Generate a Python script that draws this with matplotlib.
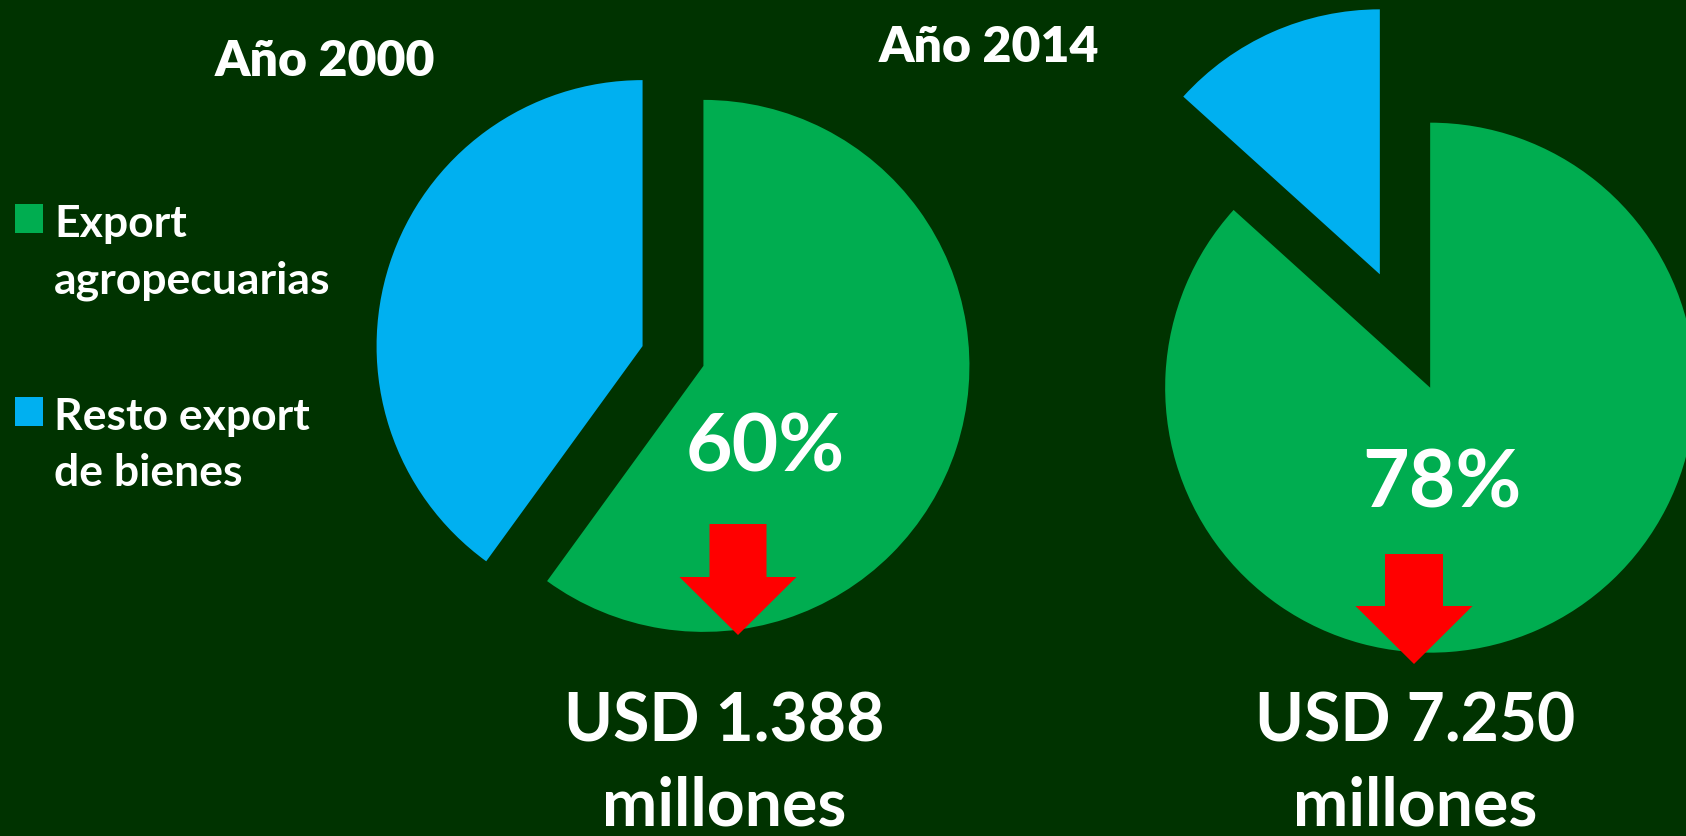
import matplotlib.pyplot as plt
from matplotlib.patches import Rectangle, FancyArrow

# datos (porciones tal como se ven dibujadas)
labels = ["Export\nagropecuarias", "Resto export\nde bienes"]
colors = ["#00AD50", "#00B0F0"]
years = ["Año 2000", "Año 2014"]
shares_2000 = [60, 40]
shares_2014 = [86.7, 13.3]
pct_labels = ["60%", "78%"]
usd_labels = ["USD 1.388", "USD 7.250"]
unit_label = "millones"

bg = "#003300"
W, H = 1686, 836
font = ["Lato", "DejaVu Sans"]

fig = plt.figure(figsize=(W / 100, H / 100), dpi=100, facecolor=bg)
ax = fig.add_axes([0, 0, 1, 1])
ax.set_facecolor(bg)

def py(y):  # pixel desde arriba -> coordenada y
    return H - y

# pies
ax.pie(shares_2000, colors=colors, startangle=90, counterclock=False,
       center=(673, py(356)), radius=266, explode=[32, 32],
       wedgeprops=dict(linewidth=0))
ax.pie(shares_2014, colors=colors, startangle=90, counterclock=False,
       center=(1405, py(331)), radius=265, explode=[62, 62],
       wedgeprops=dict(linewidth=0))

ax.set_xlim(0, W)
ax.set_ylim(0, H)
ax.set_aspect("equal")
ax.axis("off")

# titulos
ax.text(325, py(61), years[0], ha="center", va="center", color="white",
        fontsize=36, fontweight="heavy", family=font)
ax.text(989, py(47), years[1], ha="center", va="center", color="white",
        fontsize=36, fontweight="heavy", family=font)

# porcentajes
ax.text(765, py(448), pct_labels[0], ha="center", va="center", color="white",
        fontsize=58, fontweight="bold", family=font)
ax.text(1442, py(484), pct_labels[1], ha="center", va="center", color="white",
        fontsize=58, fontweight="bold", family=font)

# flechas rojas
ax.add_patch(FancyArrow(738, py(524), 0, -111, width=57, head_width=117,
                        head_length=58, length_includes_head=True,
                        color="#FF0000", linewidth=0))
ax.add_patch(FancyArrow(1414, py(554), 0, -110, width=58, head_width=117,
                        head_length=58, length_includes_head=True,
                        color="#FF0000", linewidth=0))

# montos
for x, lab in zip([724, 1415], usd_labels):
    ax.text(x, py(742), lab, ha="center", va="baseline", color="white",
            fontsize=47.5, fontweight="bold", family=font)
    ax.text(x, py(826), unit_label, ha="center", va="baseline", color="white",
            fontsize=47.5, fontweight="bold", family=font)

# leyenda
for i, (lab, c) in enumerate(zip(labels, colors)):
    top = [204, 397][i]
    ax.add_patch(Rectangle((15, py(top + 29)), 28, 29, color=c, linewidth=0))
    ax.text(54, py(top), lab, ha="left", va="top", color="white",
            fontsize=32, fontweight="bold", family=font, linespacing=1.5)

fig.savefig("out.png", dpi=100, facecolor=bg)
